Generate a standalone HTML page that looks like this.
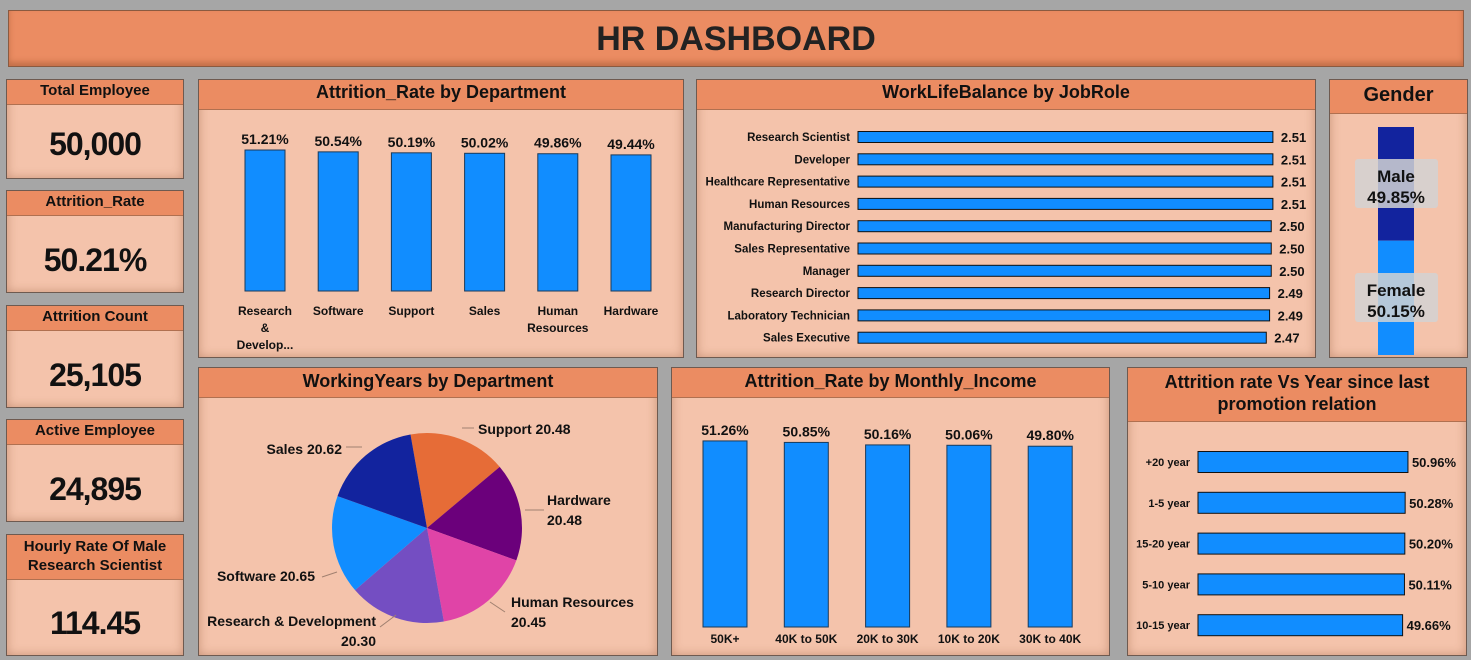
<!DOCTYPE html>
<html><head><meta charset="utf-8">
<style>
*{box-sizing:border-box;margin:0;padding:0}
body{width:1471px;height:660px;background:#a6a6a6;font-family:"Liberation Sans",sans-serif;position:relative;overflow:hidden;color:#111}
.p{position:absolute;background:#f4c3ab;border:1px solid #6e5a50;box-shadow:inset 0 0 10px rgba(120,60,30,.35)}
.h{position:absolute;left:0;right:0;top:0;background:#eb8c62;border-bottom:1px solid #b07050;font-weight:bold;text-align:center;color:#111}
.kv{position:absolute;left:0;right:0;text-align:center;font-weight:bold;font-size:32px;letter-spacing:-1px}
svg text{font-family:"Liberation Sans",sans-serif;font-weight:bold;fill:#111}
</style></head><body>
<div style="position:absolute;left:8px;top:10px;width:1456px;height:57px;background:#eb8c62;border:1px solid #8a5a40;box-shadow:inset 0 -4px 6px rgba(120,60,30,.35);text-align:center;font-weight:bold;font-size:34px;line-height:57px;color:#222">HR DASHBOARD</div>

<div class="p" style="left:6px;top:79px;width:178px;height:100px"><div class="h" style="height:25px;font-size:15px;line-height:22px">Total Employee</div><div class="kv" style="top:46px">50,000</div></div>
<div class="p" style="left:6px;top:190px;width:178px;height:103px"><div class="h" style="height:25px;font-size:15px;line-height:22px">Attrition_Rate</div><div class="kv" style="top:51px">50.21%</div></div>
<div class="p" style="left:6px;top:305px;width:178px;height:103px"><div class="h" style="height:25px;font-size:15px;line-height:22px">Attrition Count</div><div class="kv" style="top:51px">25,105</div></div>
<div class="p" style="left:6px;top:419px;width:178px;height:103px"><div class="h" style="height:25px;font-size:15px;line-height:22px">Active Employee</div><div class="kv" style="top:51px">24,895</div></div>
<div class="p" style="left:6px;top:534px;width:178px;height:122px"><div class="h" style="height:45px;font-size:15px;line-height:19px;padding-top:2px">Hourly Rate Of Male<br>Research Scientist</div><div class="kv" style="top:70px">114.45</div></div>

<div class="p" style="left:198px;top:79px;width:486px;height:279px"><div class="h" style="height:30px;font-size:18px;line-height:24px">Attrition_Rate by Department</div></div>
<div class="p" style="left:696px;top:79px;width:620px;height:279px"><div class="h" style="height:30px;font-size:18px;line-height:24px">WorkLifeBalance by JobRole</div></div>
<div class="p" style="left:1329px;top:79px;width:139px;height:279px"><div class="h" style="height:34px;font-size:20px;line-height:30px">Gender</div></div>
<div class="p" style="left:198px;top:367px;width:460px;height:289px"><div class="h" style="height:30px;font-size:18px;line-height:27px">WorkingYears by Department</div></div>
<div class="p" style="left:671px;top:367px;width:439px;height:289px"><div class="h" style="height:30px;font-size:18px;line-height:27px">Attrition_Rate by Monthly_Income</div></div>
<div class="p" style="left:1127px;top:367px;width:340px;height:289px"><div class="h" style="height:54px;font-size:18px;line-height:22px;padding-top:3px">Attrition rate Vs Year since last<br>promotion relation</div></div>

<svg id="c" width="1471" height="660" style="position:absolute;left:0;top:0"></svg>
<script>
const deptCats=["Research & Develop...","Software","Support","Sales","Human Resources","Hardware"];
const deptVals=[51.21,50.54,50.19,50.02,49.86,49.44];
const roleCats=["Research Scientist","Developer","Healthcare Representative","Human Resources","Manufacturing Director","Sales Representative","Manager","Research Director","Laboratory Technician","Sales Executive"];
const roleVals=[2.51,2.51,2.51,2.51,2.50,2.50,2.50,2.49,2.49,2.47];
const genderCats=["Male","Female"];
const genderVals=[49.85,50.15];
const pieCats=["Support","Hardware","Human Resources","Research & Development","Software","Sales"];
const pieVals=[20.48,20.48,20.45,20.30,20.65,20.62];
const incCats=["50K+","40K to 50K","20K to 30K","10K to 20K","30K to 40K"];
const incVals=[51.26,50.85,50.16,50.06,49.80];
const promCats=["+20 year","1-5 year","15-20 year","5-10 year","10-15 year"];
const promVals=[50.96,50.28,50.20,50.11,49.66];

const S=document.getElementById('c'),NS="http://www.w3.org/2000/svg";
function mk(t,a,p){const e=document.createElementNS(NS,t);for(const k in a)e.setAttribute(k,a[k]);(p||S).appendChild(e);return e;}
function tx(x,y,s,size,anchor){const e=mk('text',{x:x,y:y,'font-size':size,'text-anchor':anchor||'middle'});e.textContent=s;return e;}

(function(){const base=291,k=2.753,x0=265,step=73.2,w=40;
deptVals.forEach((v,i)=>{const cx=x0+i*step,h=v*k;
const b=mk('rect',{x:cx-w/2,y:base-h,width:w,height:h,fill:'#118dff',stroke:'#1a3a5a','stroke-width':1});


tx(cx,base-h-6,v.toFixed(2)+'%',14);
const lines=deptCats[i]==="Research & Develop..."?["Research","&","Develop..."]:deptCats[i]==="Human Resources"?["Human","Resources"]:[deptCats[i]];
lines.forEach((l,j)=>tx(cx,315+j*17,l,12));});})();

(function(){const x0=858,k=165.3,y0=137,step=22.3,h=11;
roleVals.forEach((v,i)=>{const cy=y0+i*step,w=v*k;
const b=mk('rect',{x:x0,y:cy-h/2,width:w,height:h,fill:'#118dff',stroke:'#111','stroke-width':1});


tx(850,cy+4,roleCats[i],11.5,'end');
tx(x0+w+8,cy+5,v.toFixed(2),13,'start');});})();

(function(){const top=127,H=228,x=1378,w=36,tot=genderVals[0]+genderVals[1];let y=top;
const cols=['#12239e','#118dff'],ly=[188,302];
genderVals.forEach((v,i)=>{const h=v/tot*H;
const r=mk('rect',{x:x,y:y,width:w,height:h,fill:cols[i]});


y+=h;
mk('rect',{x:1355,y:ly[i]-29,width:83,height:49,rx:3,fill:'rgba(210,210,210,.85)'});
tx(1396,ly[i]-6,genderCats[i],17);tx(1396,ly[i]+15,v.toFixed(2)+'%',17);});})();

(function(){const cx=427,cy=528,r=95,cols=['#e66c37','#6b007b','#e044a7','#744ec2','#118dff','#12239e'];
const tot=pieVals.reduce((a,b)=>a+b,0);let a=-10*Math.PI/180;
const labs=[[478,434,'start',["Support 20.48"]],[547,505,'start',["Hardware","20.48"]],[511,607,'start',["Human Resources","20.45"]],[376,626,'end',["Research & Development","20.30"]],[315,581,'end',["Software 20.65"]],[342,454,'end',["Sales 20.62"]]];
const lines=[[462,428,474,428],[525,510,544,510],[490,602,505,612],[380,627,396,615],[322,577,337,572],[346,447,362,447]];
pieVals.forEach((v,i)=>{const da=v/tot*2*Math.PI,a2=a+da;
const p=(t)=>[cx+r*Math.sin(t),cy-r*Math.cos(t)];const [x1,y1]=p(a),[x2,y2]=p(a2);
const s=mk('path',{d:`M${cx},${cy}L${x1},${y1}A${r},${r} 0 ${da>Math.PI?1:0} 1 ${x2},${y2}Z`,fill:cols[i]});


const L=labs[i];L[3].forEach((l,j)=>tx(L[0],L[1]+j*20,l,14,L[2]));
const q=lines[i];mk('line',{x1:q[0],y1:q[1],x2:q[2],y2:q[3],stroke:'#a08070','stroke-width':1});
a=a2;});})();

(function(){const base=627,k=3.63,x0=725,step=81.3,w=44;
incVals.forEach((v,i)=>{const cx=x0+i*step,h=v*k;
const b=mk('rect',{x:cx-w/2,y:base-h,width:w,height:h,fill:'#118dff',stroke:'#1a3a5a','stroke-width':1});


tx(cx,base-h-6,v.toFixed(2)+'%',14);tx(cx,643,incCats[i],12);});})();

(function(){const x0=1198,k=4.12,y0=462,step=40.8,h=21;
promVals.forEach((v,i)=>{const cy=y0+i*step,w=v*k;
const b=mk('rect',{x:x0,y:cy-h/2,width:w,height:h,fill:'#118dff',stroke:'#111','stroke-width':1});


tx(1190,cy+4,promCats[i],11,'end');tx(x0+w+4,cy+5,v.toFixed(2)+'%',13,'start');});})();
</script>
</body></html>
